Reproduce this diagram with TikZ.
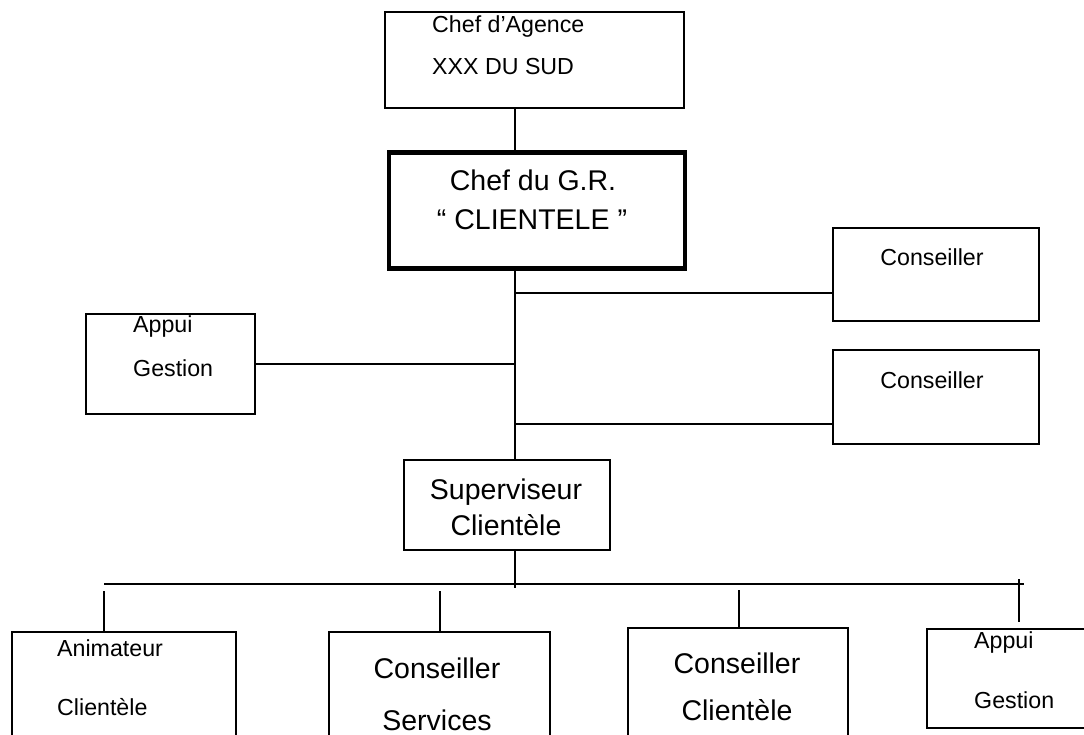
\documentclass[tikz,border=0pt]{standalone}
\usepackage{fontspec}
\setmainfont{Liberation Sans}
\usetikzlibrary{calc}
\begin{document}
\begin{tikzpicture}[x=1pt,y=-1pt,
  box/.style={draw,line width=1.8pt,rectangle,inner sep=0pt,anchor=north west},
  headbox/.style={box,line width=4.8pt},
  link/.style={line width=1.9pt},
  bus/.style={line width=1.1pt},
  small/.style={inner sep=0pt,font=\fontsize{23.2}{27}\selectfont},
  big/.style={inner sep=0pt,font=\fontsize{28.5}{33}\selectfont}]
\useasboundingbox (0,0) rectangle (1084,735);
\clip (0,0) rectangle (1084,735);

% boxes
\node[box,minimum width=299pt,minimum height=96pt] (agence) at (384,11) {};
\node[headbox,minimum width=296pt,minimum height=116pt] (gr) at (386.5,150) {};
\node[box,minimum width=206pt,minimum height=93pt] (cons1) at (832,227) {};
\node[box,minimum width=206pt,minimum height=94pt] (cons2) at (832,349) {};
\node[box,minimum width=169pt,minimum height=100pt] (appui) at (85,313) {};
\node[box,minimum width=206pt,minimum height=90pt] (sup) at (403,459) {};
\node[box,minimum width=224pt,minimum height=130pt] (anim) at (11,631) {};
\node[box,minimum width=221pt,minimum height=130pt] (serv) at (328,631) {};
\node[box,minimum width=220pt,minimum height=130pt] (clie) at (627,627) {};
\node[box,minimum width=200pt,minimum height=99pt] (appui2) at (926,628) {};

% texts
\node[small,anchor=west] (t1) at (432,27) {Chef d’Agence};
\node[small,anchor=west] (t2) at (432,67) {XXX DU SUD};
\node[big] (t3) at (533,180) {Chef du G.R.};
\node[big] (t4) at (532,220) {“ CLIENTELE ”};
\node[small] (t5) at (932,257) {Conseiller};
\node[small] (t6) at (932,380) {Conseiller};
\node[small,anchor=west] (t7) at (133,327) {Appui};
\node[small,anchor=west] (t8) at (133,368) {Gestion};
\node[big] (t9) at (506,492) {Superviseur};
\node[big] (t10) at (506,525) {Clientèle};
\node[small,anchor=west] (t11) at (57,648) {Animateur};
\node[small,anchor=west] (t12) at (57,707) {Clientèle};
\node[big] (t13) at (437,668) {Conseiller};
\node[big] (t14) at (437,720) {Services};
\node[big] (t15) at (737,663) {Conseiller};
\node[big] (t16) at (737,710) {Clientèle};
\node[small,anchor=west] (t17) at (974,642) {Appui};
\node[small,anchor=west] (t18) at (974,700) {Gestion};

% spine and branches
\coordinate (spine) at (515,0);
\draw[link] (agence.south -| spine) -- (gr.north -| spine);
\draw[link] (gr.south -| spine) -- (sup.north -| spine);
\draw[link] (spine |- 0,293) -- (cons1.west |- 0,293);
\draw[link] (spine |- 0,424) -- (cons2.west |- 0,424);
\draw[link] (appui.east) -- (appui.east -| spine);

% lower bus
\coordinate (busL) at (104,584);
\coordinate (busR) at (1024,584);
\coordinate (d1) at (104,591);
\coordinate (d2) at (440,591);
\coordinate (d3) at (739,590);
\coordinate (d4) at (1019,579);
\coordinate (d4e) at (1019,622);
\coordinate (supe) at (515,588);
\draw[bus] (busL) -- (busR);
\draw[link] (sup.south -| spine) -- (supe);
\draw[link] (d1) -- (d1 |- anim.north);
\draw[link] (d2) -- (d2 |- serv.north);
\draw[link] (d3) -- (d3 |- clie.north);
\draw[link] (d4) -- (d4e);
\end{tikzpicture}
\end{document}
